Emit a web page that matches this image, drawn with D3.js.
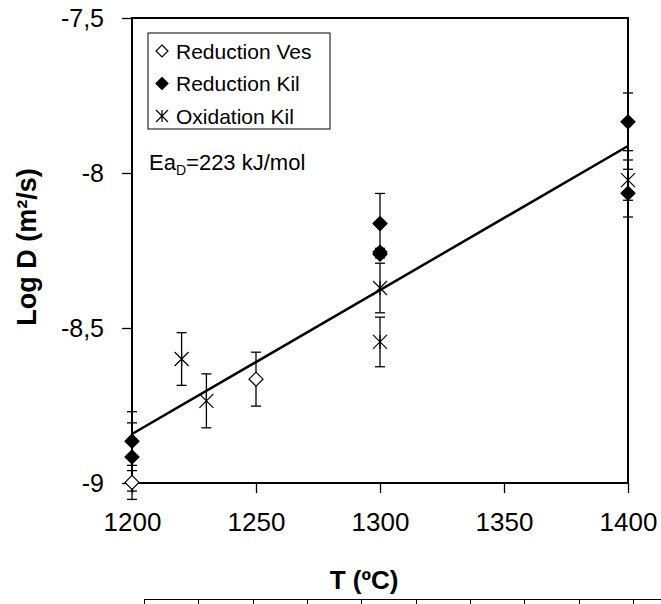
<!DOCTYPE html>
<html lang="en">
<head>
<meta charset="utf-8">
<title>Log D vs T</title>
<script src="https://d3js.org/d3.v7.min.js"></script>
<style>
  body { margin: 0; background: #fff; }
  svg { display: block; font-family: "Liberation Sans", Arial, sans-serif; }
</style>
</head>
<body>
<script>
// Data
const tempTicks = [1200, 1250, 1300, 1350, 1400];
const logTicks = [-9, -8.5, -8, -7.5];

const vesT = [1200, 1250];
const vesLogD = [-8.998, -8.665];
const vesErr = [0.055, 0.087];

const kilT = [1200, 1200, 1300, 1300, 1300, 1400, 1400];
const kilLogD = [-8.865, -8.916, -8.163, -8.255, -8.262, -7.835, -8.065];
const kilErr = [0.095, 0.11, 0.097, 0.012, 0.012, 0.093, 0.077];

const oxT = [1220, 1230, 1300, 1300, 1400];
const oxLogD = [-8.6, -8.735, -8.371, -8.545, -8.023];
const oxErr = [0.085, 0.087, 0.08, 0.08, 0.065];

const fitT = [1200, 1400];
const fitLogD = [-8.842, -7.913];

const legendNames = ["Reduction Ves", "Reduction Kil", "Oxidation Kil"];
const stripCols = d3.range(10);

const width = 661, height = 604;
const plotL = 132, plotR = 628, plotT = 18, plotB = 483;

const x = d3.scaleLinear().domain([1200, 1400]).range([plotL, plotR]);
const y = d3.scaleLinear().domain([-9, -7.5]).range([plotB, plotT]);

const loc = d3.formatLocale({decimal: ",", thousands: "", grouping: [3], currency: ["", ""], minus: "-"});
const fmtY = loc.format("~g");
const fmtX = loc.format("d");

const svg = d3.select("body").append("svg")
  .attr("width", width)
  .attr("height", height);

// Axes
const xAxis = d3.axisBottom(x).tickValues(tempTicks).tickSize(10).tickSizeOuter(0).tickPadding(20).tickFormat(fmtX);
const yAxis = d3.axisLeft(y).tickValues(logTicks).tickSize(10).tickSizeOuter(0).tickPadding(18).tickFormat(fmtY);

const gx = svg.append("g").attr("transform", `translate(0,${plotB})`).call(xAxis);
gx.select(".domain").remove();
gx.selectAll("line").attr("stroke", "#000").attr("stroke-width", 1.3);
gx.selectAll("text").attr("font-size", 26).attr("fill", "#000").attr("font-family", "Liberation Sans, Arial, sans-serif");

const gy = svg.append("g").attr("transform", `translate(${plotL},0)`).call(yAxis);
gy.select(".domain").remove();
gy.selectAll("line").attr("stroke", "#000").attr("stroke-width", 1.3);
gy.selectAll("text").attr("font-size", 25).attr("fill", "#000").attr("dy", "0.35em").attr("font-family", "Liberation Sans, Arial, sans-serif");

// Plot frame
svg.append("rect")
  .attr("x", plotL).attr("y", plotT)
  .attr("width", plotR - plotL).attr("height", plotB - plotT)
  .attr("fill", "none").attr("stroke", "#000").attr("stroke-width", 2);

// Error bars
function errorBars(ts, vals, errs) {
  const g = svg.append("g").attr("stroke", "#000").attr("stroke-width", 1.3);
  ts.forEach((t, i) => {
    const cx = x(t), y1 = y(vals[i] + errs[i]), y2 = y(vals[i] - errs[i]);
    g.append("line").attr("x1", cx).attr("x2", cx).attr("y1", y1).attr("y2", y2);
    g.append("line").attr("x1", cx - 5).attr("x2", cx + 5).attr("y1", y1).attr("y2", y1);
    g.append("line").attr("x1", cx - 5).attr("x2", cx + 5).attr("y1", y2).attr("y2", y2);
  });
}
errorBars(vesT, vesLogD, vesErr);
errorBars(kilT, kilLogD, kilErr);
errorBars(oxT, oxLogD, oxErr);

// Regression line
svg.append("path")
  .datum(fitT.map((t, i) => [t, fitLogD[i]]))
  .attr("d", d3.line().x(d => x(d[0])).y(d => y(d[1])))
  .attr("fill", "none").attr("stroke", "#000").attr("stroke-width", 2.5);

// Markers
const diamond = r => `M0,${-r}L${r},0L0,${r}L${-r},0Z`;
const star = r => `M${-r},${-r}L${r},${r}M${-r},${r}L${r},${-r}M0,${-r}L0,${r}`;

function drawDiamonds(ts, vals, filled) {
  svg.append("g").selectAll("path").data(ts).join("path")
    .attr("transform", (t, i) => `translate(${x(t)},${y(vals[i])})`)
    .attr("d", diamond(7))
    .attr("fill", filled ? "#000" : "#fff")
    .attr("stroke", "#000").attr("stroke-width", 1.2);
}
drawDiamonds(vesT, vesLogD, false);
drawDiamonds(kilT, kilLogD, true);

svg.append("g").selectAll("path").data(oxT).join("path")
  .attr("transform", (t, i) => `translate(${x(t)},${y(oxLogD[i])})`)
  .attr("d", star(7))
  .attr("fill", "none").attr("stroke", "#000").attr("stroke-width", 1.2);

// Legend
const lg = svg.append("g");
lg.append("rect").attr("x", 148).attr("y", 33).attr("width", 182).attr("height", 96)
  .attr("fill", "#fff").attr("stroke", "#000").attr("stroke-width", 1);
legendNames.forEach((name, i) => {
  const cy = 51 + i * 32.5;
  const m = lg.append("path").attr("transform", `translate(162,${cy})`)
    .attr("stroke", "#000").attr("stroke-width", 1.2);
  if (i === 0) m.attr("d", diamond(6)).attr("fill", "#fff");
  else if (i === 1) m.attr("d", diamond(6)).attr("fill", "#000");
  else m.attr("d", star(6)).attr("fill", "none");
  lg.append("text").attr("x", 176).attr("y", cy + 7.5)
    .attr("font-size", 21).text(name);
});

// Activation energy note
const ea = svg.append("text").attr("x", 149).attr("y", 170).attr("font-size", 22);
ea.append("tspan").text("Ea");
ea.append("tspan").attr("font-size", 14).attr("dy", 5).text("D");
ea.append("tspan").attr("dy", -5).text("=223 kJ/mol");

// Axis titles
svg.append("text")
  .attr("transform", "translate(36,247) rotate(-90)")
  .attr("text-anchor", "middle").attr("font-weight", "bold").attr("font-size", 27)
  .text("Log D (m²/s)");

svg.append("text")
  .attr("x", 364).attr("y", 589)
  .attr("text-anchor", "middle").attr("font-weight", "bold").attr("font-size", 26)
  .text("T (ºC)");

// Strip of cells at bottom edge
const sx = d3.scaleLinear().domain([0, 9]).range([144, 633]);
const strip = svg.append("g").attr("stroke", "#000").attr("stroke-width", 1);
strip.append("line").attr("x1", sx(0)).attr("x2", width).attr("y1", 599.5).attr("y2", 599.5);
strip.selectAll("line.c").data(stripCols).join("line").attr("class", "c")
  .attr("x1", d => Math.round(sx(d)) + 0.5).attr("x2", d => Math.round(sx(d)) + 0.5)
  .attr("y1", 599.5).attr("y2", height);
</script>
</body>
</html>
